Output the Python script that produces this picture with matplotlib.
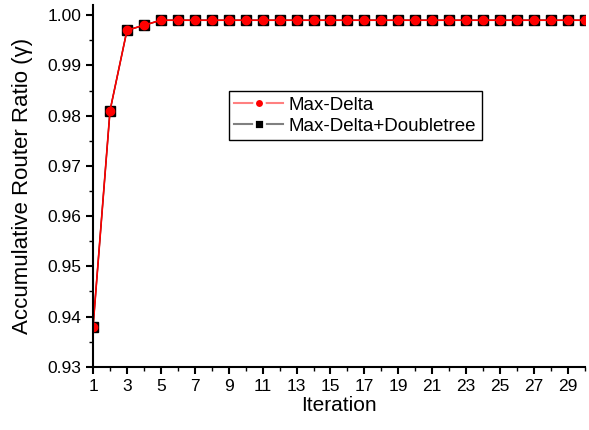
import matplotlib.pyplot as plt
from matplotlib.lines import Line2D
from matplotlib.ticker import MultipleLocator, FixedLocator

plt.rcParams['font.family'] = ['Liberation Sans', 'DejaVu Sans']

# data
iterations = list(range(1, 31))
max_delta = [0.938, 0.981, 0.997, 0.998] + [0.999] * 26
max_delta_dt = [0.938, 0.981, 0.997, 0.998] + [0.999] * 26

fig = plt.figure(figsize=(5.89, 4.30), dpi=100)
ax = fig.add_axes([0.158, 0.147, 0.835, 0.841])

ax.plot(iterations, max_delta_dt, color='black', marker='s', markersize=7,
        markerfacecolor='black', linewidth=1)
ax.plot(iterations, max_delta, color='red', marker='o', markersize=6,
        markerfacecolor='red', markeredgecolor='red', linewidth=1.2)

ax.set_xlim(1, 30)
ax.set_ylim(0.93, 1.002)
ax.xaxis.set_major_locator(FixedLocator(list(range(1, 31, 2))))
ax.xaxis.set_minor_locator(MultipleLocator(1))
ax.yaxis.set_major_locator(MultipleLocator(0.01))
ax.yaxis.set_minor_locator(MultipleLocator(0.005))
ax.yaxis.set_major_formatter(plt.FormatStrFormatter('%.2f'))

for s in ['top', 'right']:
    ax.spines[s].set_visible(False)
for s in ['left', 'bottom']:
    ax.spines[s].set_linewidth(1.5)
ax.tick_params(which='major', direction='out', length=5, width=1.5, labelsize=12.5)
ax.tick_params(which='minor', direction='out', length=3, width=1)

ax.set_xlabel('Iteration', fontsize=15, labelpad=2)
ax.set_ylabel('Accumulative Router Ratio (γ)', fontsize=16, labelpad=10)

handles = [
    Line2D([], [], color='#ff8080', marker='o', markersize=7,
           markerfacecolor='red', markeredgecolor='white',
           markeredgewidth=2, linewidth=1.5),
    Line2D([], [], color='#808080', marker='s', markersize=7,
           markerfacecolor='black', markeredgecolor='white',
           markeredgewidth=2, linewidth=1.5),
]
leg = ax.legend(handles, ['Max-Delta', 'Max-Delta+Doubletree'],
                loc='upper left', bbox_to_anchor=(0.276, 0.762),
                fontsize=13.5, fancybox=False, edgecolor='black',
                framealpha=1, handlelength=2.6, borderpad=0.3,
                labelspacing=0.2, handletextpad=0.3, borderaxespad=0)
leg.get_frame().set_linewidth(1)

fig.savefig('out.png', dpi=100)
